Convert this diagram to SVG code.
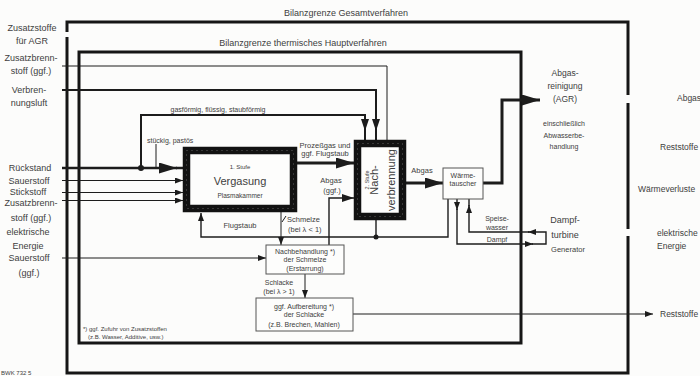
<svg xmlns="http://www.w3.org/2000/svg" width="700" height="376" viewBox="0 0 700 376">
  <style>
    .t { font-family: "Liberation Sans", Arial, sans-serif; fill: #404040; }
    .c { text-anchor: middle; }
    .f9 { font-size: 9px; }
    .f85 { font-size: 8.5px; }
    .f75 { font-size: 7.5px; }
    .f7 { font-size: 7px; }
    .f6 { font-size: 6px; }
    .ln { fill: none; stroke: #1c1c1c; stroke-linejoin: miter; }
    .w1 { stroke-width: 1; }
    .w15 { stroke-width: 1.4; }
    .w2 { stroke-width: 2; }
    .w3 { stroke-width: 3; }
    .bound { fill: none; stroke: #161616; stroke-width: 3; }
    .box { fill: #fdfdfc; stroke: #555; stroke-width: 1; }
    .frame { fill: #fdfdfc; stroke: #121212; stroke-width: 7.5; }
    .speck { fill: none; stroke: #5e5e5e; stroke-width: 1; stroke-dasharray: 1 4; }
    .dot { fill: #1c1c1c; }
  </style>
  <defs>
    <marker id="arr" markerUnits="userSpaceOnUse" markerWidth="8" markerHeight="6" refX="8" refY="3" orient="auto">
      <path d="M0,0 L8,3 L0,6 z" fill="#1c1c1c"/>
    </marker>
    <marker id="arrMid" markerUnits="userSpaceOnUse" markerWidth="12" markerHeight="8" refX="12" refY="4" orient="auto">
      <path d="M0,0 L12,4 L0,8 z" fill="#1c1c1c"/>
    </marker>
    <marker id="arrBig" markerUnits="userSpaceOnUse" markerWidth="18" markerHeight="11" refX="18" refY="5.5" orient="auto">
      <path d="M0,0 L18,5.5 L0,11 z" fill="#1c1c1c"/>
    </marker>
  </defs>

  <rect width="700" height="376" fill="#fcfcfb"/>

  <!-- balance boundaries -->
  <g id="boundary-total">
    <path class="bound" d="M67,32 V22 H628 V95 M628,103 V229 M628,236 V373 H67 V37"/>
    <text class="t f9 c" x="346" y="16">Bilanzgrenze Gesamtverfahren</text>
  </g>
  <g id="boundary-thermal">
    <rect class="bound" x="79" y="52" width="442" height="291"/>
    <text class="t f9 c" x="303" y="46">Bilanzgrenze thermisches Hauptverfahren</text>
  </g>

  <!-- input labels -->
  <g id="inputs">
    <text class="t f9 c" x="32" y="31">Zusatzstoffe</text>
    <text class="t f9 c" x="32" y="44">für AGR</text>
    <text class="t f9 c" x="31" y="61">Zusatzbrenn-</text>
    <text class="t f9 c" x="31" y="74">stoff (ggf.)</text>
    <text class="t f9 c" x="29" y="93">Verbren-</text>
    <text class="t f9 c" x="29" y="106">nungsluft</text>
    <text class="t f9 c" x="30" y="171">Rückstand</text>
    <text class="t f9 c" x="29" y="184">Sauerstoff</text>
    <text class="t f9 c" x="28" y="195">Stickstoff</text>
    <text class="t f9 c" x="31" y="206">Zusatzbrenn-</text>
    <text class="t f9 c" x="31" y="221">stoff (ggf.)</text>
    <text class="t f9 c" x="28" y="235">elektrische</text>
    <text class="t f9 c" x="28" y="249">Energie</text>
    <text class="t f9 c" x="29" y="261">Sauerstoff</text>
    <text class="t f9 c" x="29" y="276">(ggf.)</text>
  </g>

  <!-- output labels -->
  <g id="outputs">
    <text class="t f85" x="677" y="101">Abgas</text>
    <text class="t f85" x="660" y="150">Reststoffe</text>
    <text class="t f85" x="638" y="192">Wärmeverluste</text>
    <text class="t f85" x="657" y="236">elektrische</text>
    <text class="t f85" x="657" y="249">Energie</text>
    <text class="t f85" x="660" y="317">Reststoffe</text>
  </g>

  <!-- connectors -->
  <g id="connectors">
    <path class="ln w1" d="M62,66 H387 V140"/>
    <path class="ln w2" d="M62,90 H376 V131" marker-end="url(#arrMid)"/>
    <path class="ln w2" d="M376,130 V140"/>
    <path class="ln w2" d="M141,168 V115 H365 V131" marker-end="url(#arrMid)"/>
    <path class="ln w2" d="M365,130 V140"/>
    <path class="ln" stroke-width="2.5" d="M62,168 H177" marker-end="url(#arrBig)"/>
    <path class="ln" stroke-width="2.5" d="M176,168 H183"/>
    <circle class="dot" cx="141" cy="168" r="3"/>
    <path class="ln w1" d="M156,144 V168"/>
    <path class="ln w1" d="M62,180.5 H183" marker-end="url(#arr)"/>
    <path class="ln w1" d="M62,192.5 H183" marker-end="url(#arr)"/>
    <path class="ln w1" d="M62,200.5 H183" marker-end="url(#arr)"/>
    <path class="ln w3" d="M297,163 H354" marker-end="url(#arrBig)"/>
    <path class="ln w15" d="M329,245 V198 H354" marker-end="url(#arrMid)"/>
    <path class="ln w1" d="M281,212 V245" marker-end="url(#arr)"/>
    <path class="ln w1" d="M282,222 L286,216"/>
    <path class="ln w15" d="M448,199 V237 H201 V213" marker-end="url(#arr)"/>
    <path class="ln w15" d="M376,220 V237"/>
    <circle class="dot" cx="376" cy="237" r="2.5"/>
    <path class="ln w1" d="M62,258 H266" marker-end="url(#arr)"/>
    <path class="ln w1" d="M305,274 V298" marker-end="url(#arr)"/>
    <path class="ln w1" d="M353,314 H653" marker-end="url(#arr)"/>
    <path class="ln w3" d="M406,183 H443" marker-end="url(#arrBig)"/>
    <path class="ln w3" d="M483,183 H502 V100 H540" marker-end="url(#arrBig)"/>
    <path class="ln w15" d="M457,199 V210" marker-end="url(#arr)"/>
    <path class="ln w15" d="M457,209 V244 H533" marker-end="url(#arr)"/>
    <path class="ln w15" d="M532,244 H546 V232 H528" marker-end="url(#arr)"/>
    <path class="ln w15" d="M529,232 H469 V205" marker-end="url(#arr)"/>
    <path class="ln w15" d="M469,206 V199"/>

    <text class="t f7" x="218" y="111.5" text-anchor="middle">gasförmig, flüssig, staubförmig</text>
    <text class="t f7" x="147" y="142.5">stückig, pastös</text>
    <text class="t f75 c" x="325" y="147.5">Prozeßgas und</text>
    <text class="t f75 c" x="325" y="156">ggf. Flugstaub</text>
    <text class="t f75 c" x="331" y="183">Abgas</text>
    <text class="t f75 c" x="332" y="193">(ggf.)</text>
    <text class="t f75" x="287" y="222">Schmelze</text>
    <text class="t f75" x="288" y="232">(bei λ &lt; 1)</text>
    <text class="t f75 c" x="240" y="228">Flugstaub</text>
    <text class="t f7 c" x="279" y="284.5">Schlacke</text>
    <text class="t f7 c" x="279" y="293.5">(bei λ &gt; 1)</text>
    <text class="t f75 c" x="422" y="172.5">Abgas</text>
    <text class="t f7 c" x="497" y="221">Speise-</text>
    <text class="t f7 c" x="497" y="229.5">wasser</text>
    <text class="t f7 c" x="497" y="241.5">Dampf</text>
  </g>

  <!-- stage 1: gasification -->
  <g id="vergasung">
    <rect class="frame" x="186.5" y="150.5" width="107" height="58"/>
    <rect class="speck" x="186.5" y="150.5" width="107" height="58"/>
    <text class="t f6 c" x="240" y="169">1. Stufe</text>
    <text class="t c" x="240" y="185" font-size="11px">Vergasung</text>
    <text class="t c" x="240" y="198" font-size="6.5px">Plasmakammer</text>
  </g>

  <!-- stage 2: afterburning -->
  <g id="nachverbrennung">
    <rect class="frame" x="357.5" y="143.5" width="45" height="73"/>
    <rect class="speck" x="357.5" y="143.5" width="45" height="73"/>
    <g transform="translate(380,180) rotate(-90)">
      <text class="t c" x="0" y="-11" font-size="5.5px">2. Stufe</text>
      <text class="t c" x="0" y="-2" font-size="11px">Nach-</text>
      <text class="t c" x="0" y="15" font-size="11px">verbrennung</text>
    </g>
  </g>

  <!-- heat exchanger -->
  <g id="waermetauscher">
    <rect class="box" x="443" y="168" width="40" height="31"/>
    <text class="t f7 c" x="463" y="177.5">Wärme-</text>
    <text class="t f7 c" x="463" y="185.5">tauscher</text>
  </g>

  <!-- melt treatment -->
  <g id="nachbehandlung">
    <rect class="box" x="266" y="245" width="78" height="29"/>
    <text class="t f7 c" x="305" y="253.5">Nachbehandlung *)</text>
    <text class="t f7 c" x="305" y="262">der Schmelze</text>
    <text class="t f7 c" x="305" y="270.5">(Erstarrung)</text>
  </g>

  <!-- slag processing -->
  <g id="aufbereitung">
    <rect class="box" x="256" y="298" width="97" height="33"/>
    <text class="t f7 c" x="304" y="308.5">ggf. Aufbereitung *)</text>
    <text class="t f7 c" x="304" y="316.5">der Schlacke</text>
    <text class="t f7 c" x="304" y="326.5">(z.B. Brechen, Mahlen)</text>
  </g>

  <!-- flue gas cleaning -->
  <g id="agr">
    <text class="t f85 c" x="565" y="76">Abgas-</text>
    <text class="t f85 c" x="565" y="89">reinigung</text>
    <text class="t f85 c" x="565" y="102">(AGR)</text>
    <text class="t f7 c" x="564" y="125.5">einschließlich</text>
    <text class="t f7 c" x="564" y="137.5">Abwasserbe-</text>
    <text class="t f7 c" x="564" y="148.5">handlung</text>
  </g>

  <!-- steam turbine -->
  <g id="dampfturbine">
    <text class="t f9 c" x="565" y="223">Dampf-</text>
    <text class="t f9 c" x="565" y="238">turbine</text>
    <text class="t f75 c" x="568" y="251.5">Generator</text>
  </g>

  <!-- footnote and code -->
  <g id="notes">
    <text class="t f6" x="83" y="331">*) ggf. Zufuhr von Zusatzstoffen</text>
    <text class="t f6" x="88" y="339">(z.B. Wasser, Additive, usw.)</text>
    <text class="t f6" x="1" y="375">BWK 732 5</text>
  </g>
</svg>
